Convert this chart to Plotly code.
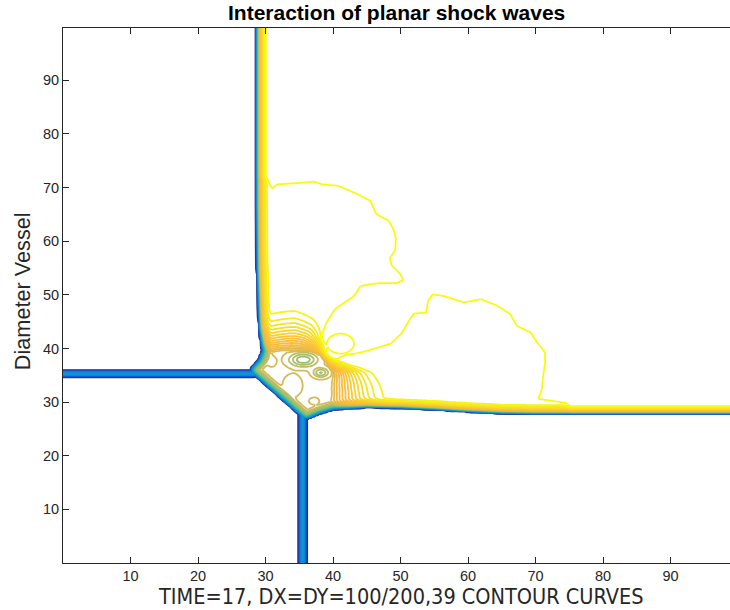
import numpy as np
import plotly.graph_objects as go

# ---------------------------------------------------------------
# Simulation grid (DX = DY = 100/200, sampled finer for drawing)
# ---------------------------------------------------------------
STEP = 0.25
xs = np.arange(0.0, 100.0 + STEP / 2, STEP)
ys = np.arange(0.0, 100.0 + STEP / 2, STEP)
X, Y = np.meshgrid(xs, ys)

# Centre line of the reflected shock front (vertical branch, corner, horizontal branch)
front_x = [29.7, 29.7, 29.7, 29.8, 30.0, 30.1, 30.4, 30.6, 29.9, 28.9,
           36.1, 37.6, 40.0, 45.0, 50.0, 55.0, 60.0, 65.0, 70.0, 80.0, 101.0]
front_y = [101.0, 85.0, 67.0, 55.0, 48.0, 44.0, 41.0, 39.5, 37.4, 36.0,
           28.0, 28.8, 29.7, 30.1, 30.0, 29.7, 29.3, 29.0, 28.9, 28.9, 28.9]
front_width = 2.2

# Incoming planar waves (thin ridges outside the shocked region)
wave_h_y, wave_h_xend = 35.3, 28.6
wave_v_x, wave_v_yend = 35.5, 28.0
wave_amp, wave_sigma = 0.28, 0.40

# Outermost level curve behind the shock (closed through the unshocked side)
outer_x = [20.0, 30.2, 31.0, 31.7, 34.2, 37.2, 38.4, 40.9, 43.6, 45.6, 46.5,
           48.3, 49.0, 49.4, 49.3, 48.5, 48.8, 50.0, 50.5, 49.5, 47.0, 45.1,
           44.1, 43.1, 41.6, 40.3, 39.0, 38.3, 38.2, 38.8, 40.4, 42.1, 45.1,
           48.5, 50.0, 51.5, 51.9, 53.7, 54.0, 54.7, 56.4, 59.4, 61.9, 64.3,
           66.3, 67.3, 69.3, 70.3, 71.5, 71.5, 71.2, 71.0, 70.5, 74.7, 76.0,
           20.0]
outer_y = [71.7, 71.7, 70.0, 70.7, 70.9, 71.2, 70.7, 70.4, 68.9, 67.6, 65.1,
           63.9, 62.4, 60.5, 58.3, 56.8, 55.5, 54.0, 52.7, 52.1, 52.1, 51.8,
           51.5, 49.6, 48.4, 47.2, 44.5, 42.0, 39.8, 38.5, 38.1, 38.7, 39.7,
           41.0, 42.8, 45.9, 46.6, 46.8, 49.0, 50.2, 49.9, 48.7, 49.3, 48.1,
           46.5, 44.3, 43.1, 41.2, 39.3, 37.2, 34.7, 32.2, 30.7, 29.9, 20.0,
           20.0]
outer_step = 0.04

# Low-pressure pocket at the Mach corner: inner / outer radius per direction
pocket_cx, pocket_cy = 34.5, 35.5
pocket_depth = 0.352
pocket_theta = [-180, -135, -90, -60, -45, -30, -20, -10, 0, 10, 20, 30, 40,
                60, 75, 90, 105, 120, 135, 150, 165, 180]
pocket_r_in = [9.0, 9.0, 9.0, 10.0, 7.0, 5.8, 5.4, 5.3, 5.3, 5.1, 4.8, 4.8, 4.8,
               4.5, 4.0, 3.8, 4.0, 4.5, 5.0, 5.5, 7.0, 9.0]
pocket_r_out = [16.0, 16.0, 16.0, 25.0, 20.0, 17.5, 15.5, 14.0, 12.4, 8.7, 6.8,
                6.1, 6.2, 8.2, 11.5, 13.0, 13.0, 13.0, 13.0, 13.0, 14.0, 16.0]

# Local extrema (vortex cores, small cells)
spot_x = [35.6, 38.2, 34.0, 30.9, 37.2, 41.1]
spot_y = [37.9, 35.5, 33.1, 37.6, 30.2, 40.9]
spot_sx = [2.00, 1.10, 1.65, 0.60, 0.80, 2.28]
spot_sy = [1.25, 0.85, 2.40, 0.90, 0.70, 2.12]
spot_amp = [0.105, 0.085, 0.016, 0.030, 0.020, 0.045]
spot_pow = [2, 2, 4, 2, 2, 4]

# Contour levels: 39 curves
levels_start, levels_end, levels_size = 0.025, 0.975, 0.025

parula = [[0.0, '#352a87'], [0.1, '#0f5cdd'], [0.2, '#1481d6'], [0.3, '#06a4ca'],
          [0.4, '#2eb7a4'], [0.5, '#87bf77'], [0.6, '#d1bb59'], [0.7, '#f7ba3d'],
          [0.78, '#fdbf38'], [0.86, '#f6d42d'], [0.93, '#f4e520'], [1.0, '#f9fb0e']]

x_ticks = [10, 20, 30, 40, 50, 60, 70, 80, 90]
y_ticks = [10, 20, 30, 40, 50, 60, 70, 80, 90]


# ---------------------------------------------------------------
# Geometry helpers
# ---------------------------------------------------------------
def polyline_distance(px, py, vx, vy, closed=False):
    vx = list(vx) + ([vx[0]] if closed else [])
    vy = list(vy) + ([vy[0]] if closed else [])
    d = np.full(px.shape, np.inf)
    for x0, y0, x1, y1 in zip(vx[:-1], vy[:-1], vx[1:], vy[1:]):
        dx, dy = x1 - x0, y1 - y0
        l2 = dx * dx + dy * dy
        t = np.clip(((px - x0) * dx + (py - y0) * dy) / l2, 0.0, 1.0)
        d = np.minimum(d, np.hypot(px - (x0 + t * dx), py - (y0 + t * dy)))
    return d


def point_in_polygon(px, py, vx, vy):
    res = np.zeros(px.shape, dtype=bool)
    n = len(vx)
    for i in range(n):
        x0, y0 = vx[i], vy[i]
        x1, y1 = vx[(i + 1) % n], vy[(i + 1) % n]
        if y0 == y1:
            continue
        cross = (y0 > py) != (y1 > py)
        xint = x0 + (py - y0) * (x1 - x0) / (y1 - y0)
        res ^= cross & (px < xint)
    return res


# ---------------------------------------------------------------
# Build the field
# ---------------------------------------------------------------
# signed distance to the shock front (positive behind the shock)
shock_poly_x = front_x + [101.0]
shock_poly_y = front_y + [101.0]
d_front = polyline_distance(X, Y, front_x, front_y)
d_front = np.where(point_in_polygon(X, Y, shock_poly_x, shock_poly_y), d_front, -d_front)
t_front = np.clip((d_front + front_width / 2) / front_width, 0.0, 1.0)
ramp = 1.0 - (1.0 - t_front) ** 3.5

# outer level region
d_outer = polyline_distance(X, Y, outer_x, outer_y, closed=True)
d_outer = np.where(point_in_polygon(X, Y, outer_x, outer_y), d_outer, -d_outer)
s_outer = np.clip(0.5 + d_outer / 0.8, 0.0, 1.0)

# corner pocket
theta = np.degrees(np.arctan2(Y - pocket_cy, X - pocket_cx))
r = np.hypot(X - pocket_cx, Y - pocket_cy)
r_in = np.interp(theta, pocket_theta, pocket_r_in)
r_out = np.interp(theta, pocket_theta, pocket_r_out)
u = np.clip((r_out - r) / (r_out - r_in), 0.0, 1.0)
pocket = pocket_depth * u ** 2

spots = np.zeros_like(X)
for cx, cy, sx, sy, a, p in zip(spot_x, spot_y, spot_sx, spot_sy, spot_amp, spot_pow):
    rho2 = ((X - cx) / sx) ** 2 + ((Y - cy) / sy) ** 2
    spots += a * np.exp(-rho2 ** (p / 2))

inner = 1.0 - outer_step * s_outer - pocket - spots
Z = inner * ramp

wave_h = wave_amp * np.exp(-((Y - wave_h_y) / wave_sigma) ** 2) * np.clip(wave_h_xend + 0.8 - X, 0, 1)
wave_v = wave_amp * np.exp(-((X - wave_v_x) / wave_sigma) ** 2) * np.clip(wave_v_yend + 0.8 - Y, 0, 1)
Z = np.maximum(Z, np.maximum(wave_h, wave_v)).astype(np.float32)

# ---------------------------------------------------------------
# Figure
# ---------------------------------------------------------------
fig = go.Figure(go.Contour(
    x=xs, y=ys, z=Z,
    autocontour=False,
    contours=dict(start=levels_start, end=levels_end, size=levels_size, coloring='lines'),
    colorscale=parula,
    line=dict(width=1.8),
    showscale=False,
    hoverinfo='skip',
))

axis_color = '#262626'
tick_font = dict(family='Liberation Sans, Arial, sans-serif', size=14.5, color=axis_color)

fig.update_layout(
    width=730, height=610,
    margin=dict(l=63, r=0, t=28, b=47),
    paper_bgcolor='white', plot_bgcolor='white',
    showlegend=False,
    xaxis=dict(range=[0, 98.8], tickvals=x_ticks, ticks='inside', ticklen=6,
               tickcolor=axis_color, showline=True, linecolor=axis_color, linewidth=1,
               mirror='ticks', showgrid=False, zeroline=False, tickfont=tick_font),
    yaxis=dict(range=[0, 99.75], tickvals=y_ticks, ticks='inside', ticklen=6,
               tickcolor=axis_color, showline=True, linecolor=axis_color, linewidth=1,
               showgrid=False, zeroline=False, tickfont=tick_font),
    annotations=[
        dict(text='<b>Interaction of planar shock waves</b>', xref='paper', yref='paper',
             x=0.5007, y=1 + 16 / 535, xanchor='center', yanchor='middle', showarrow=False,
             font=dict(family='Liberation Sans, Arial, sans-serif', size=21, color='black')),
        dict(text='TIME=17, DX=DY=100/200,39 CONTOUR CURVES', xref='paper', yref='paper',
             x=0.5067, y=-33 / 535, xanchor='center', yanchor='middle', showarrow=False,
             font=dict(family='DejaVu Sans Condensed, Liberation Sans, sans-serif',
                       size=21.5, color=axis_color)),
        dict(text='Diameter Vessel', xref='paper', yref='paper', textangle=-90,
             x=-41 / 667, y=0.508, xanchor='center', yanchor='middle', showarrow=False,
             font=dict(family='Liberation Sans, Arial, sans-serif', size=21.7, color=axis_color)),
    ],
)

fig.write_html('out.html')
